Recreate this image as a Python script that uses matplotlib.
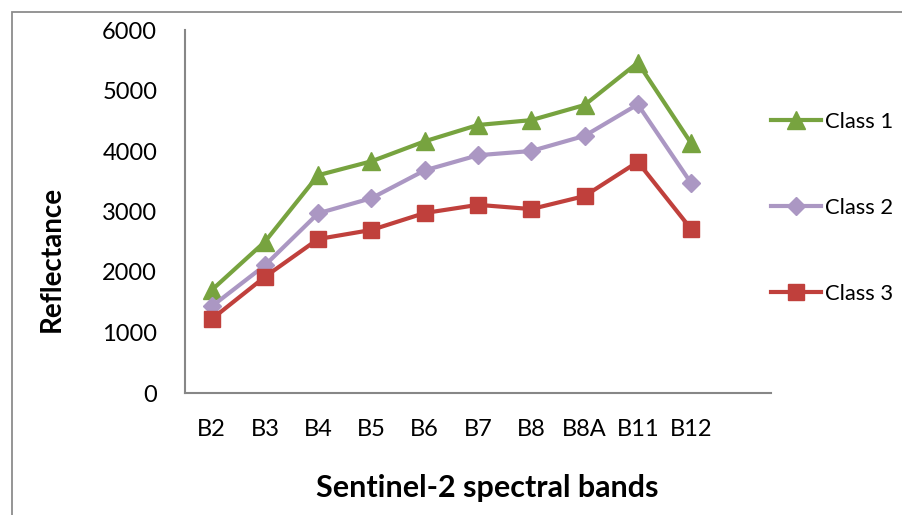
import matplotlib
matplotlib.use('Agg')
import matplotlib.pyplot as plt
import matplotlib.patches as patches

# data
bands = ['B2', 'B3', 'B4', 'B5', 'B6', 'B7', 'B8', 'B8A', 'B11', 'B12']
class1 = [1700, 2500, 3600, 3830, 4160, 4430, 4510, 4760, 5460, 4130]
class2 = [1430, 2110, 2970, 3220, 3680, 3930, 4000, 4250, 4770, 3470]
class3 = [1220, 1920, 2545, 2695, 2975, 3110, 3040, 3255, 3820, 2710]
series_names = ['Class 1', 'Class 2', 'Class 3']

plt.rcParams['font.family'] = ['Lato', 'DejaVu Sans']

fig = plt.figure(figsize=(9.03, 5.15), dpi=100)
ax = fig.add_axes([185 / 903, 1 - 393 / 515, (771 - 185) / 903, (393 - 30) / 515])

# outer chart border (grey frame, cut off on right/bottom)
fig.patches.append(patches.Rectangle((12 / 903, -0.2), 1.2, 1 - 12 / 515 + 0.2,
                                     transform=fig.transFigure, fill=False,
                                     edgecolor='#8c8c8c', linewidth=1.3))

x = range(len(bands))
ax.plot(x, class1, color='#77A33F', lw=3, marker='^', ms=13, label=series_names[0])
ax.plot(x, class2, color='#AB97C3', lw=3, marker='D', ms=9.5, label=series_names[1])
ax.plot(x, class3, color='#C0403C', lw=3, marker='s', ms=11.5, label=series_names[2])

ax.set_xlim(-0.5, 10.5)
ax.set_ylim(0, 6000)
ax.set_yticks(range(0, 6001, 1000))
ax.set_xticks(list(x))
ax.set_xticklabels(bands)
ax.tick_params(axis='both', length=0, labelsize=17)
ax.tick_params(axis='x', pad=19)
ax.tick_params(axis='y', pad=20)

for s in ['top', 'right']:
    ax.spines[s].set_visible(False)
for s in ['left', 'bottom']:
    ax.spines[s].set_color('#878787')
    ax.spines[s].set_linewidth(1.5)

fig.text(52 / 903, 1 - 259 / 515, 'Reflectance', rotation=90, ha='center', va='center',
         fontsize=20, fontweight='bold')
fig.text(487 / 903, 1 - 488 / 515, 'Sentinel-2 spectral bands', ha='center', va='center',
         fontsize=22, fontweight='bold')

ax.legend(loc='center left', bbox_to_anchor=(762 / 903, 1 - 208 / 515),
          bbox_transform=fig.transFigure, frameon=False, fontsize=15.8,
          handlelength=2.3, handletextpad=0.15, labelspacing=3.0, borderaxespad=0)

fig.savefig('out.png', dpi=100)
